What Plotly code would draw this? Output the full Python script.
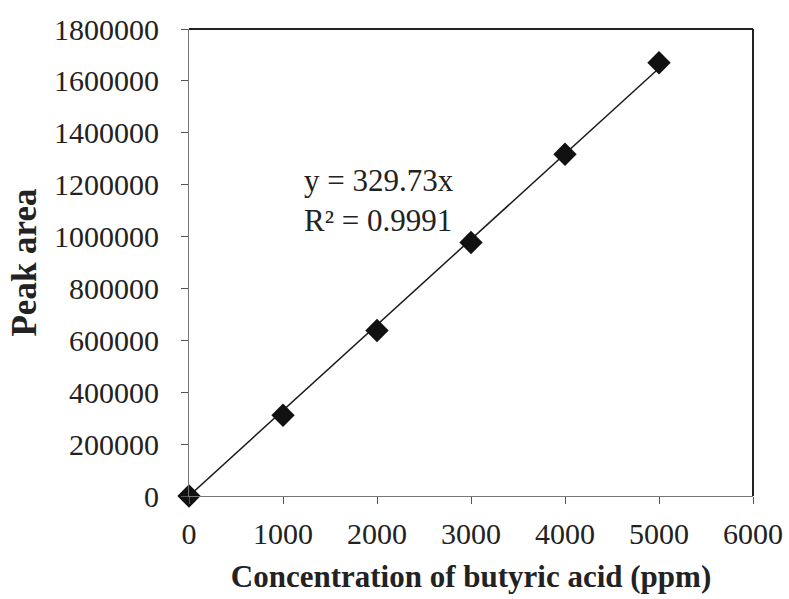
import plotly.graph_objects as go

# Calibration data: butyric acid standards
concentration = [0, 1000, 2000, 3000, 4000, 5000]
peak_area = [0, 311000, 638000, 977000, 1317000, 1670000]

slope = 329.73
r_squared = 0.9991

x_tick_vals = [0, 1000, 2000, 3000, 4000, 5000, 6000]
y_tick_vals = [0, 200000, 400000, 600000, 800000, 1000000, 1200000,
               1400000, 1600000, 1800000]
y_tick_text = [str(v) for v in y_tick_vals]
x_tick_text = [str(v) for v in x_tick_vals]

fit_x = [concentration[0], concentration[-1]]
fit_y = [slope * v for v in fit_x]

font_family = "Liberation Serif, Times New Roman, serif"
ink = "#222222"

fig = go.Figure()

# Linear fit through the origin
fig.add_trace(go.Scatter(
    x=fit_x, y=fit_y, mode="lines",
    line=dict(color="#1a1a1a", width=1.5),
    hoverinfo="skip", showlegend=False,
))

# Measured standards
fig.add_trace(go.Scatter(
    x=concentration, y=peak_area, mode="markers",
    marker=dict(symbol="diamond", size=18, color="#111111"),
    showlegend=False, cliponaxis=False,
))

fig.add_annotation(
    x=0.200, y=0.632, xref="paper", yref="paper",
    text=f"y = {slope}x<br>R² = {r_squared}",
    showarrow=False, xanchor="left", yanchor="middle", align="left",
    font=dict(family=font_family, size=31, color=ink),
)

# Heavier frame on top and right sides
fig.add_shape(type="line", xref="paper", yref="paper", x0=0, x1=1, y0=1, y1=1,
              line=dict(color=ink, width=2))
fig.add_shape(type="line", xref="paper", yref="paper", x0=1, x1=1, y0=0, y1=1,
              line=dict(color=ink, width=2))

fig.update_xaxes(
    range=[0, 6000], tickvals=x_tick_vals, ticktext=x_tick_text,
    ticks="outside", ticklen=7, tickcolor="#555555", tickwidth=1,
    ticklabelstandoff=4, automargin=False,
    showline=True, linecolor="#777777", linewidth=1,
    showgrid=False, zeroline=False,
    tickfont=dict(family=font_family, size=30, color=ink),
    title=dict(text="<b>Concentration of butyric acid (ppm)</b>",
               font=dict(family=font_family, size=31, color=ink),
               standoff=16),
)
fig.update_yaxes(
    range=[0, 1800000], tickvals=y_tick_vals, ticktext=y_tick_text,
    ticks="outside", ticklen=7, tickcolor="#555555", tickwidth=1,
    ticklabelstandoff=16, automargin=False,
    showline=True, linecolor="#777777", linewidth=1,
    showgrid=False, zeroline=False,
    tickfont=dict(family=font_family, size=30, color=ink),
    title=dict(text="<b>Peak area</b>",
               font=dict(family=font_family, size=35, color=ink),
               standoff=6),
)

fig.update_layout(
    width=789, height=599,
    margin=dict(l=189, r=36, t=29, b=103),
    plot_bgcolor="white", paper_bgcolor="white",
)

fig.write_html("out.html")
